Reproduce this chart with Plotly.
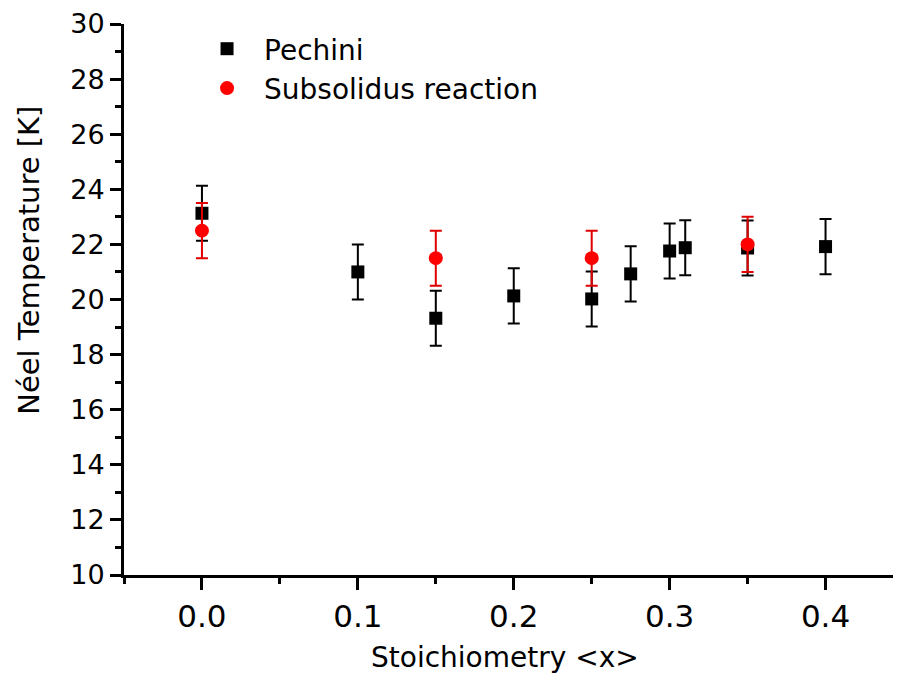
import plotly.graph_objects as go

# Pechini samples
pech_x = [0.0, 0.1, 0.15, 0.2, 0.25, 0.275, 0.3, 0.31, 0.35, 0.4]
pech_y = [23.13, 21.0, 19.32, 20.13, 20.02, 20.93, 21.76, 21.88, 21.87, 21.92]
pech_err = [1.0, 1.0, 1.0, 1.0, 1.0, 1.0, 1.0, 1.0, 1.0, 1.0]

# Subsolidus reaction samples
sub_x = [0.0, 0.15, 0.25, 0.35]
sub_y = [22.5, 21.5, 21.5, 22.0]
sub_err = [1.0, 1.0, 1.0, 1.0]

FONT = "DejaVu Sans, Liberation Sans, Arial, sans-serif"

fig = go.Figure()
fig.add_trace(go.Scatter(
    x=pech_x, y=pech_y, mode="markers", name="Pechini",
    marker=dict(symbol="square", size=13, color="black"),
    error_y=dict(type="data", array=pech_err, color="black", thickness=2, width=6),
))
fig.add_trace(go.Scatter(
    x=sub_x, y=sub_y, mode="markers", name="Subsolidus reaction",
    marker=dict(symbol="circle", size=14, color="#ff0000"),
    error_y=dict(type="data", array=sub_err, color="#e00000", thickness=2, width=6),
))

fig.update_layout(
    width=893, height=676,
    margin=dict(l=116, r=0, t=16, b=109, pad=0, autoexpand=False),
    paper_bgcolor="white", plot_bgcolor="white",
    font=dict(family=FONT, color="black", size=28),
    showlegend=True,
    legend=dict(
        x=0.085, y=1.0, xanchor="left", yanchor="top",
        bgcolor="rgba(0,0,0,0)", font=dict(size=28),
        itemwidth=64, tracegroupgap=0,
    ),
    annotations=[
        dict(
            text="Néel Temperature [K]", textangle=-90, showarrow=False,
            xref="paper", yref="paper", x=-0.1223, y=0.572,
            xanchor="center", yanchor="middle", font=dict(size=29),
        ),
        dict(
            text="Stoichiometry <x>", showarrow=False,
            xref="paper", yref="paper", x=0.4905, y=-0.15,
            xanchor="center", yanchor="middle", font=dict(size=28),
        ),
    ],
)
fig.update_xaxes(
    automargin=False,
    range=[-0.05, 0.4484], showgrid=False, zeroline=False,
    showline=True, linecolor="black", linewidth=3,
    ticks="outside", tickmode="linear", tick0=0, dtick=0.1,
    ticklen=12, tickwidth=2.5, tickcolor="black",
    tickformat=".1f", tickfont=dict(size=31),
    minor=dict(ticks="outside", tick0=-0.05, dtick=0.1, ticklen=6, tickwidth=2.5, tickcolor="black", showgrid=False),
)
fig.update_yaxes(
    automargin=False,
    range=[10, 30], showgrid=False, zeroline=False,
    showline=True, linecolor="black", linewidth=3,
    ticks="outside", tickmode="linear", tick0=10, dtick=2,
    ticklen=11, tickwidth=2.5, tickcolor="black",
    tickfont=dict(size=27),
    minor=dict(ticks="outside", tick0=11, dtick=2, ticklen=6, tickwidth=2.5, tickcolor="black", showgrid=False),
)

fig.write_html("out.html")
